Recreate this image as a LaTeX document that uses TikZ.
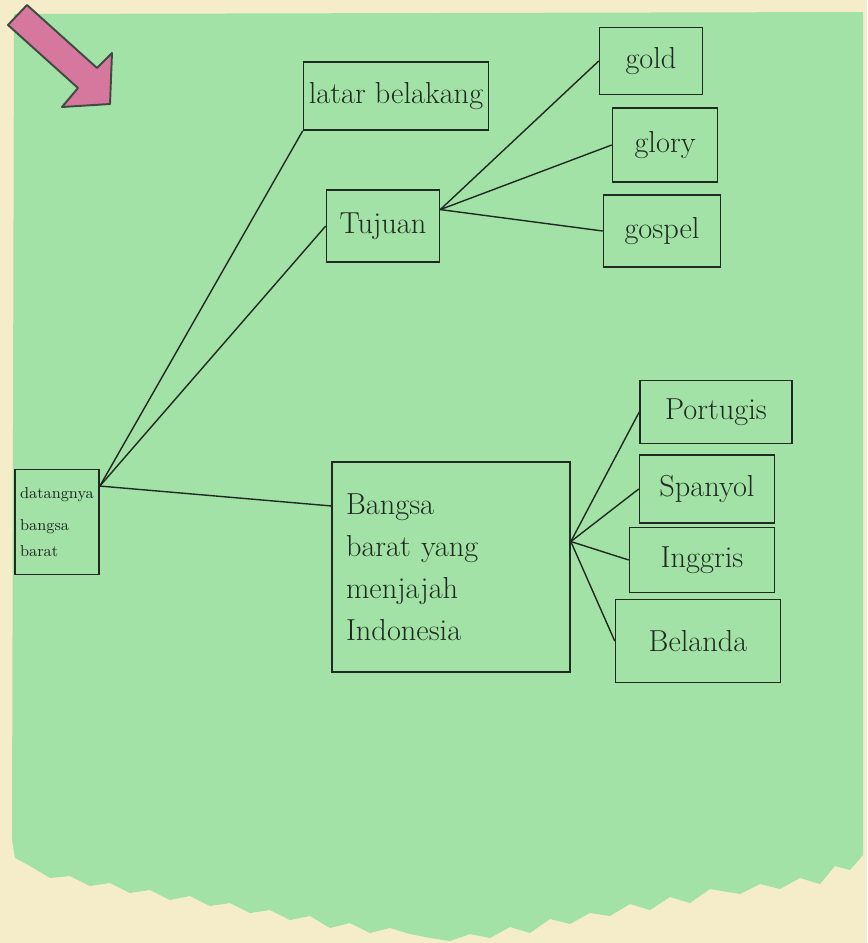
\documentclass[tikz,border=0pt]{standalone}
\usepackage{xcolor}
\usetikzlibrary{positioning}
\definecolor{paper}{HTML}{F5EDCA}
\definecolor{leaf}{HTML}{A3E2A7}
\definecolor{pen}{HTML}{1F2A20}
\definecolor{pinkarrow}{HTML}{D6779D}

\begin{document}
\begin{tikzpicture}[x=0.02cm, y=-0.02cm,
    box/.style={draw=pen, line width=0.9pt, font=\LARGE, text=pen, inner sep=3pt},
    link/.style={draw=pen, line width=0.8pt}]
            \useasboundingbox (0,0) rectangle (867,943);
            \fill[paper] (0,0) rectangle (867,943);
            \fill[leaf] (14,14) -- (863,12) -- (863,855) -- (850,870) -- (835,866) -- (820,884) -- (800,878)
                -- (780,889) -- (760,884) -- (740,894) -- (710,889) -- (690,903) -- (670,897) -- (650,910)
                -- (630,904) -- (610,916) -- (590,913) -- (570,924) -- (550,919) -- (530,933) -- (510,927)
                -- (490,938) -- (470,934) -- (450,941) -- (430,938) -- (410,934) -- (390,928) -- (370,933)
                -- (350,923) -- (330,928) -- (310,916) -- (290,920) -- (270,910) -- (250,913) -- (230,903)
                -- (210,906) -- (190,896) -- (170,900) -- (150,890) -- (130,893) -- (110,883) -- (90,886)
                -- (70,876) -- (50,878) -- (30,866) -- (15,858) -- (12,840) -- cycle;
            \draw[pen!85, fill=pinkarrow, line width=1.1pt, line join=round]
                (8,25) -- (27,5) -- (97,68) -- (112,53) -- (110,104) -- (62,107) -- (78,88) -- cycle;

            \node[box, font=\small, align=left, minimum width=1.62cm, minimum height=2.1cm] (dbb) at (57,522)
                {datangnya\\[7pt] bangsa\\[4pt] barat};
            \node[box, minimum width=3.66cm, minimum height=1.36cm] (latar) at (396,96) {latar belakang};
            \node[box, minimum width=2.26cm, minimum height=1.44cm] (tujuan) at (383,226) {Tujuan};
            \node[box, minimum width=2.06cm, minimum height=1.34cm] (gold) at (651,61) {gold};
            \node[box, minimum width=2.1cm, minimum height=1.48cm] (glory) at (665,145) {glory};
            \node[box, minimum width=2.34cm, minimum height=1.44cm] (gospel) at (662,231) {gospel};
            \node[box, align=left, text width=4.2cm, minimum height=4.2cm, inner sep=8pt] (bangsa) at (451,567)
                {\baselineskip=24pt Bangsa\\ barat yang\\ menjajah\\ Indonesia\\[14pt]};
            \node[box, minimum width=3.04cm, minimum height=1.26cm] (portugis) at (716,412) {Portugis};
            \node[box, minimum width=2.7cm, minimum height=1.36cm] (spanyol) at (707,489) {Spanyol};
            \node[box, minimum width=2.9cm, minimum height=1.3cm] (inggris) at (702,560) {Inggris};
            \node[box, minimum width=3.3cm, minimum height=1.66cm] (belanda) at (698,641) {Belanda};

            \draw[link] (dbb.40) -- (latar.south west);
            \draw[link] (dbb.40) -- (tujuan.west);
            \draw[link] (dbb.40) -- (bangsa.153);
            \draw[link] (tujuan.16) -- (gold.west);
            \draw[link] (tujuan.16) -- (glory.west);
            \draw[link] (tujuan.16) -- (gospel.west);
            \draw[link] (bangsa.12) -- (portugis.west);
            \draw[link] (bangsa.12) -- (spanyol.west);
            \draw[link] (bangsa.12) -- (inggris.west);
            \draw[link] (bangsa.12) -- (belanda.west);
        \end{tikzpicture}
\end{document}
